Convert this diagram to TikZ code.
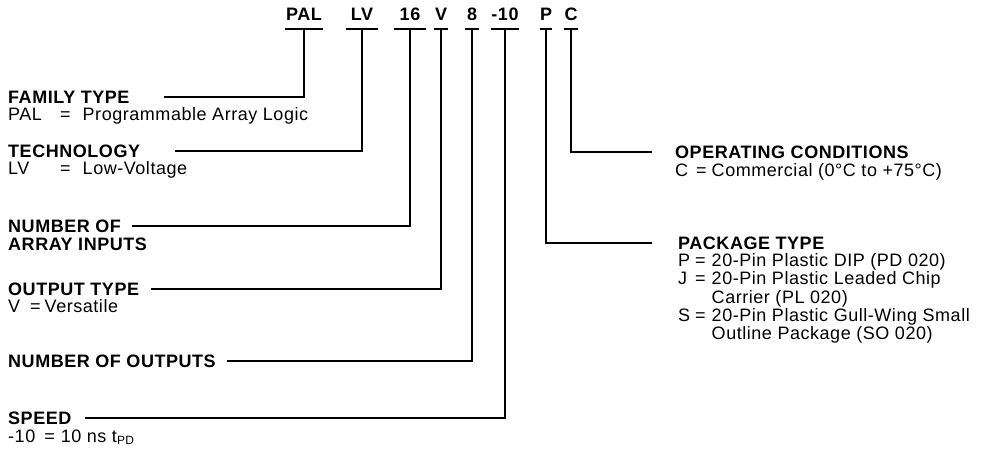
\documentclass[tikz,border=0pt]{standalone}
\usepackage{fontspec}
\setmainfont{Liberation Sans}[LetterSpace=3]
\usetikzlibrary{positioning}

\begin{document}
\begin{tikzpicture}[x=1pt,y=-1pt,
   txt/.style={inner sep=0pt,anchor=west,font=\fontsize{18}{17.5}\selectfont},
   head/.style={txt,font=\fontsize{18}{17.5}\selectfont\bfseries},
   sub/.style={txt,anchor=base west},
   code/.style={head,anchor=base,inner xsep=0pt,text depth=8.5pt},
   bar/.style={line width=2pt},
   lead/.style={line width=1.7pt}]
\useasboundingbox (0,0) rectangle (995,462);
% part number
\foreach \nm/\x/\w/\txt in %
{pal/304/38/PAL,lv/362/31/LV,n16/410/31/16,v/441/14/V,n8/472/14/8,m10/505/26/-10,p/546/12/P,c/571/12/C} {
   \node[code,minimum width=\w pt] (\nm) at (\x,20.5) {\txt};
   \draw[bar] (\nm.south west) -- (\nm.south east);
}
% left side
\node[head] (fam) at (8,97) {FAMILY TYPE};
\node[sub] (famsub) at ([yshift=-17pt]fam.base west) {\makebox[52pt][l]{PAL}=\hspace{12pt}Programmable Array Logic};
\node[head] (tech) at (8,151) {TECHNOLOGY};
\node[sub] (techsub) at ([yshift=-17pt]tech.base west) {\makebox[52pt][l]{LV}=\hspace{12pt}Low-Voltage};
\node[head] (numin) at (8,226) {NUMBER OF};
\node[head,anchor=base west] (numinsub) at ([yshift=-18pt]numin.base west) {ARRAY INPUTS};
\node[head] (outtype) at (8,289) {OUTPUT TYPE};
\node[sub] (outsub) at ([yshift=-17pt]outtype.base west) {V\hspace{10pt}=\hspace{4pt}Versatile};
\node[head] (numout) at (8,361) {NUMBER OF OUTPUTS};
\node[head] (speed) at (8,418) {SPEED};
\node[sub] (speedsub) at ([yshift=-18.5pt]speed.base west) {-10\hspace{9pt}=\hspace{6pt}10 ns t\raisebox{-1.5pt}{\fontsize{12}{12}\selectfont PD}};
% right side
\node[head] (opcond) at (675,152) {OPERATING CONDITIONS};
\node[sub] (opsub) at ([yshift=-18pt]opcond.base west) {C\hspace{8pt}=\hspace{5pt}Commercial (0°C to +75°C)};
\node[head] (pkg) at (678,243) {PACKAGE TYPE};
\node[sub] (pkgsub) at ([yshift=-17.5pt]pkg.base west) {%
   \begin{tabular}[t]{@{}l@{\hspace{5pt}}l@{\hspace{6pt}}l@{}}
   P & = & 20-Pin Plastic DIP (PD 020)\\
   J & = & 20-Pin Plastic Leaded Chip\\
     &   & Carrier (PL 020)\\
   S & = & 20-Pin Plastic Gull-Wing Small\\
     &   & Outline Package (SO 020)
   \end{tabular}};
% leads
\foreach \c/\h/\s in %
{pal/fam/34,lv/tech/35,n16/numin/11,v/outtype/12,n8/numout/11,m10/speed/13} {
   \draw[lead,shorten >=\s pt] (\c.south) |- (\h.east);
}
\draw[lead,shorten >=23pt] (c.south) |- (opcond.west);
\draw[lead,shorten >=26pt] (p.south) |- (pkg.west);
\end{tikzpicture}
\end{document}
